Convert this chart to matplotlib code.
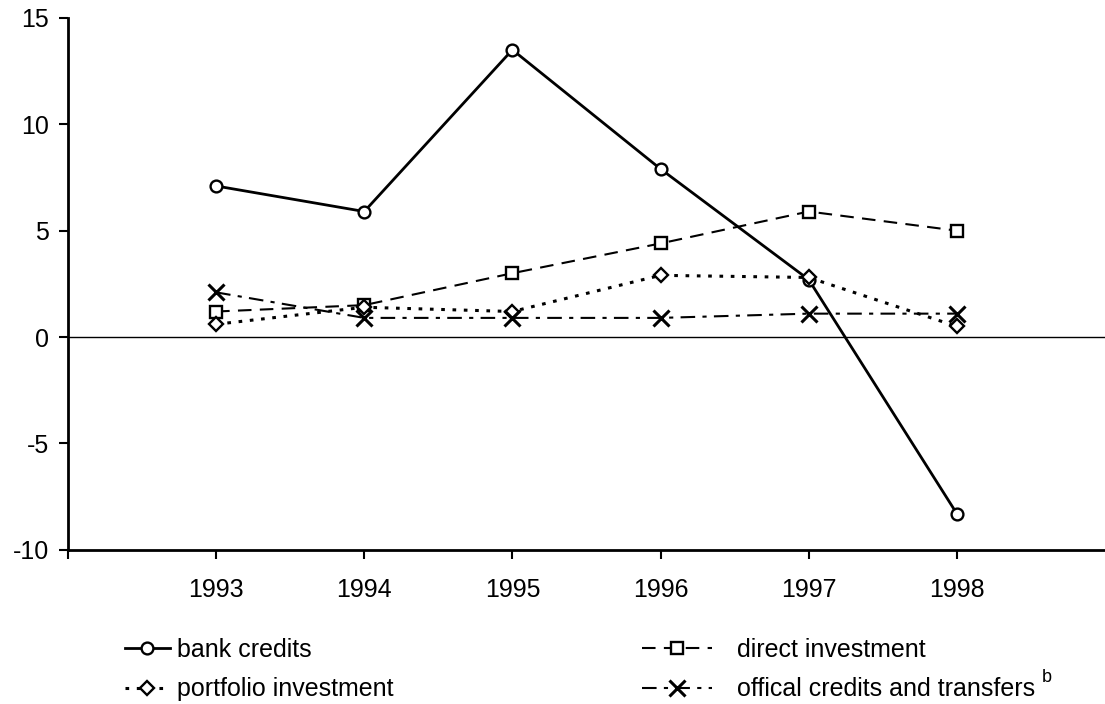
import matplotlib.pyplot as plt

plt.rcParams['font.family'] = ['Liberation Sans', 'DejaVu Sans']
plt.rcParams['axes.unicode_minus'] = False

# данные
years = [1993, 1994, 1995, 1996, 1997, 1998]
bank_credits = [7.1, 5.9, 13.5, 7.9, 2.7, -8.3]
direct_investment = [1.2, 1.5, 3.0, 4.4, 5.9, 5.0]
portfolio_investment = [0.6, 1.4, 1.2, 2.9, 2.8, 0.5]
official_credits = [2.1, 0.9, 0.9, 0.9, 1.1, 1.1]

fig = plt.figure(figsize=(11.05, 7.04), dpi=100)
ax = fig.add_axes([0.0615, 0.219, 0.9385, 0.7556])

mk = dict(markerfacecolor='white', markeredgecolor='black', markeredgewidth=1.7, markersize=8.5)

l_bank, = ax.plot(years, bank_credits, color='black', lw=2, marker='o', **mk)
l_direct, = ax.plot(years, direct_investment, color='black', lw=1.5,
                    ls=(0, (6.5, 4)), marker='s', **mk)
l_port, = ax.plot(years, portfolio_investment, color='black', lw=2.2,
                  ls=(0, (1.2, 2.5)), marker='D', **dict(mk, markersize=7.5))
l_off, = ax.plot(years, official_credits, color='black', lw=1.5,
                 ls=(0, (7, 3.5, 2, 3.5)), marker='x', markeredgewidth=2.2,
                 markersize=12)

ax.axhline(0, color='black', lw=1)

ax.set_xlim(1992, 1999)
ax.set_ylim(-10, 15)
ax.set_xticks([1992] + years)
ax.set_xticklabels([''] + [str(y) for y in years])
ax.set_yticks([-10, -5, 0, 5, 10, 15])
ax.tick_params(axis='both', direction='out', length=6.5, width=1.5, labelsize=18, colors='black')
ax.tick_params(axis='x', pad=14)
ax.tick_params(axis='y', pad=7)
for s in ['top', 'right']:
    ax.spines[s].set_visible(False)
for s in ['left', 'bottom']:
    ax.spines[s].set_linewidth(2)

# легенда: два столбца под графиком
leg1 = fig.legend([l_bank, l_port], ['bank credits', 'portfolio investment'],
                  loc='upper left', bbox_to_anchor=(0.113, 0.094), frameon=False,
                  fontsize=18, handlelength=1.8, handletextpad=0.3, labelspacing=0.62,
                  borderaxespad=0, borderpad=0)
leg2 = fig.legend([l_direct, l_off], ['direct investment', 'offical credits and transfers'],
                  loc='upper left', bbox_to_anchor=(0.581, 0.094), frameon=False,
                  fontsize=18, handlelength=2.8, handletextpad=1.0, labelspacing=0.62,
                  borderaxespad=0, borderpad=0)
fig.text(1042 / 1105, 1 - 677 / 704, 'b', fontsize=13, ha='left', va='center')

fig.savefig('out.png', dpi=100)
